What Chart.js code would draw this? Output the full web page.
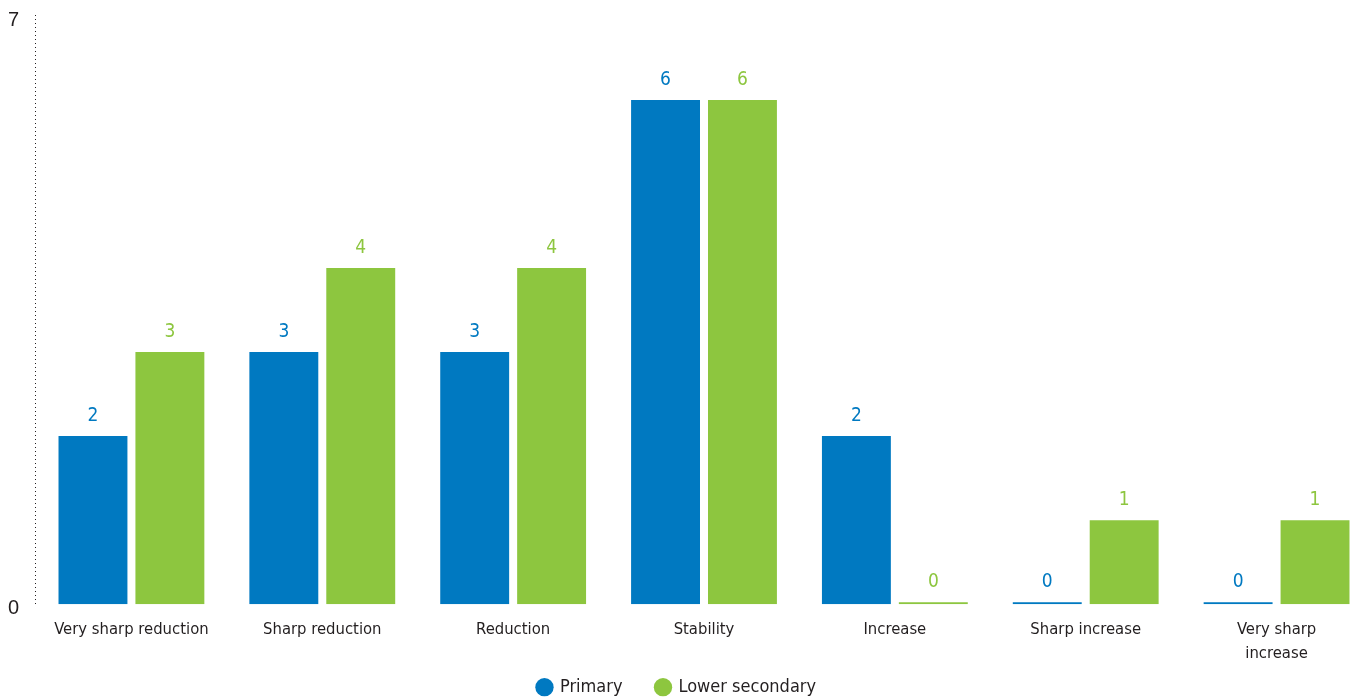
<!DOCTYPE html>
<html>
<head>
<meta charset="utf-8">
<script src="https://cdn.jsdelivr.net/npm/chart.js@4.4.1/dist/chart.umd.min.js"></script>
<style>
  html, body { margin: 0; padding: 0; background: #fff; overflow: hidden; }
  #wrap { position: relative; width: 1372px; height: 700px; }
</style>
</head>
<body>
<div id="wrap"><canvas id="chart"></canvas></div>
<script>
const categories = ['Very sharp reduction', 'Sharp reduction', 'Reduction', 'Stability', 'Increase', 'Sharp increase', ['Very sharp', 'increase']];
const primaryValues = [2, 3, 3, 6, 2, 0, 0];
const lowerSecondaryValues = [3, 4, 4, 6, 0, 1, 1];
const yTicks = [0, 7];

const BLUE = '#0079c1';
const GREEN = '#8dc63f';
const TEXT = '#231f20';
const FONT = "'Liberation Sans Narrow', 'DejaVu Sans Condensed', sans-serif";

// Draw the value above every bar in the bar's colour
const valueLabels = {
    id: 'valueLabels',
    afterDatasetsDraw(chart) {
        const ctx = chart.ctx;
        ctx.save();
        ctx.font = '19px ' + FONT;
        ctx.textAlign = 'center';
        ctx.textBaseline = 'middle';
        chart.data.datasets.forEach((ds, i) => {
            chart.getDatasetMeta(i).data.forEach((bar, j) => {
                ctx.fillStyle = ds.backgroundColor;
                ctx.fillText(ds.data[j], bar.x, bar.y - 20);
            });
        });
        ctx.restore();
    }
};

// Dotted y axis line (border.dash only affects grid lines in v4)
const dottedAxis = {
    id: 'dottedAxis',
    afterDraw(chart) {
        const y = chart.scales.y;
        const ctx = chart.ctx;
        const x = Math.round(y.right) - 0.5;
        ctx.save();
        ctx.strokeStyle = TEXT;
        ctx.lineWidth = 1;
        ctx.setLineDash([1, 3]);
        ctx.beginPath();
        ctx.moveTo(x, y.top - 1);
        ctx.lineTo(x, y.bottom);
        ctx.stroke();
        ctx.restore();
    }
};

// canvas is wider than the window: centre the legend on the window,
// and let its box overlap the x labels so the items sit where they should
const placeLegend = {
    id: 'placeLegend',
    afterLayout(chart) {
        const lg = chart.legend;
        const shift = (lg.left + lg.right) / 2 - window.innerWidth / 2;
        lg.left -= shift;
        lg.right -= shift;
        lg.top = chart.scales.x.top + 40;
        lg.bottom = lg.top + 90;
    }
};

new Chart(document.getElementById('chart'), {
    type: 'bar',
    data: {
        labels: categories,
        datasets: [
            { label: 'Primary', data: primaryValues, backgroundColor: BLUE, minBarLength: 2 },
            { label: 'Lower secondary', data: lowerSecondaryValues, backgroundColor: GREEN, minBarLength: 2 }
        ]
    },
    options: {
        responsive: true,
        maintainAspectRatio: false,
        animation: false,
        categoryPercentage: 0.806,
        barPercentage: 0.896,
        layout: { padding: 0 },
        plugins: {
            legend: {
                position: 'bottom',
                maxHeight: 20,
                labels: {
                    usePointStyle: true,
                    pointStyle: 'circle',
                    boxWidth: 13,
                    boxHeight: 13,
                    padding: 34,
                    color: TEXT,
                    font: { family: FONT, size: 18 }
                }
            },
            tooltip: { enabled: false }
        },
        scales: {
            x: {
                grid: { display: false, drawTicks: false },
                border: { display: false },
                ticks: {
                    color: TEXT,
                    font: { family: FONT, size: 16.5, lineHeight: 1.45 },
                    maxRotation: 0,
                    autoSkip: false,
                    padding: 14
                }
            },
            y: {
                min: 0,
                max: 7,
                afterBuildTicks: axis => { axis.ticks = yTicks.map(v => ({ value: v })); },
                afterFit: axis => { axis.width = 36; axis.paddingTop = 16; axis.paddingBottom = 0; },
                grid: { display: false, drawTicks: false },
                border: { display: false },
                ticks: {
                    color: TEXT,
                    font: { family: "'Liberation Sans', sans-serif", size: 20 },
                    padding: 17,
                    labelOffset: 4
                }
            }
        }
    },
    plugins: [valueLabels, dottedAxis, placeLegend]
});
</script>
</body>
</html>
